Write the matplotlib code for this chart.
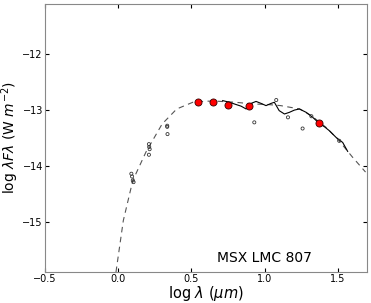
import matplotlib
matplotlib.use("Agg")
import matplotlib.pyplot as plt
import numpy as np

# Model (dashed) curve
model_x = [-0.015, 0.035, 0.10, 0.19, 0.30, 0.40, 0.51, 0.60, 0.67, 0.80, 0.92, 1.02, 1.11, 1.24, 1.32, 1.42, 1.50, 1.60, 1.69]
model_y = [-15.90, -14.98, -14.26, -13.75, -13.25, -12.98, -12.86, -12.84, -12.84, -12.86, -12.89, -12.90, -12.92, -12.98, -13.10, -13.31, -13.52, -13.84, -14.11]

# IR spectrum (solid)
spec_x = [0.714, 0.76, 0.805, 0.84, 0.874, 0.908, 0.942, 0.976, 1.01, 1.045, 1.067, 1.10, 1.136, 1.17, 1.204, 1.238, 1.284, 1.329, 1.375, 1.41, 1.443, 1.489, 1.534, 1.568]
spec_y = [-12.83, -12.86, -12.90, -12.93, -12.98, -12.88, -12.845, -12.88, -12.92, -12.88, -12.86, -13.01, -13.07, -13.04, -13.00, -12.98, -13.04, -13.13, -13.24, -13.30, -13.37, -13.49, -13.58, -13.74]

# Red photometry points
red_x = [0.546, 0.648, 0.751, 0.892, 1.37]
red_y = [-12.857, -12.857, -12.91, -12.93, -13.24]

# Small open-circle photometry
pt_x = [0.09, 0.095, 0.10, 0.105, 0.21, 0.212, 0.21, 0.215, 0.335, 0.335, 0.337, 1.08, 0.93, 1.16, 1.26, 1.32, 1.51]
pt_y = [-14.14, -14.19, -14.26, -14.29, -13.61, -13.66, -13.80, -13.70, -13.28, -13.30, -13.43, -12.82, -13.22, -13.13, -13.33, -13.11, -13.55]

label = "MSX LMC 807"

fig = plt.figure(figsize=(3.71, 3.03), dpi=100)
ax = fig.add_axes([45/371, 1 - 272/303, 322/371, 268/303])

ax.plot(model_x, model_y, linestyle=(0, (5, 4)), color="#555555", lw=0.8)
ax.plot(spec_x, spec_y, color="black", lw=0.8)
ax.scatter(pt_x, pt_y, s=5, facecolors="none", edgecolors="#333333", linewidths=0.6, zorder=3)
ax.scatter(red_x, red_y, s=26, color="red", edgecolors="#330000", linewidths=0.6, zorder=4)

ax.set_xlim(-0.5, 1.7)
ax.set_ylim(-15.9, -11.1)
ax.set_xticks([-0.5, 0.0, 0.5, 1.0, 1.5])
ax.set_yticks([-15, -14, -13, -12])
ax.tick_params(direction="in", labelsize=7, length=3, top=True, right=True, pad=1.5)
for s in ax.spines.values():
    s.set_color("#888888")

ax.set_xlabel(r"log $\lambda$ ($\mu m$)", fontsize=10.5)
ax.set_ylabel(r"log $\lambda F \lambda$ (W $m^{-2}$)", fontsize=10)
ax.xaxis.set_label_coords(0.5, -0.045)
ax.yaxis.set_label_coords(-0.075, 0.5)
ax.text(0.68, 0.037, label, transform=ax.transAxes, fontsize=10, ha="center", va="baseline")

fig.savefig("out.png", dpi=100)
